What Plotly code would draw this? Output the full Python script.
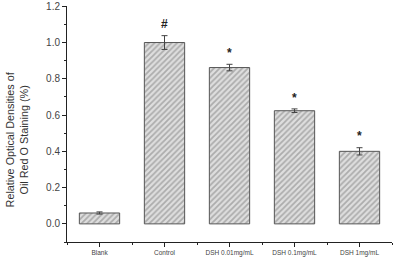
import plotly.graph_objects as go

categories = ["Blank", "Control", "DSH 0.01mg/mL", "DSH 0.1mg/mL", "DSH 1mg/mL"]
values = [0.06, 1.0, 0.862, 0.624, 0.40]
errors = [0.006, 0.038, 0.018, 0.010, 0.020]
marks = ["", "#", "*", "*", "*"]
y_ticks = [0.0, 0.2, 0.4, 0.6, 0.8, 1.0, 1.2]

xs = list(range(len(categories)))

fig = go.Figure()
fig.add_trace(go.Bar(
    x=xs, y=values, width=0.62,
    marker=dict(color="#ffffff",
                line=dict(color="#555555", width=1),
                pattern=dict(shape="/", fgcolor="#7a7a7a", bgcolor="#dedede", size=4, solidity=0.45)),
    error_y=dict(type="data", array=errors, visible=True, color="#444444", thickness=1, width=3),
    showlegend=False,
))

for x, v, e, m in zip(xs, values, errors, marks):
    if m:
        fig.add_annotation(x=x, y=v + e + 0.062, text="<b>" + m + "</b>", showarrow=False,
                           font=dict(family="Liberation Sans, Arial", size=12, color="#222222"),
                           yanchor="middle")

fig.add_annotation(xref="paper", yref="paper", x=-0.153, y=0.436, xanchor="center", yanchor="middle",
                   text="Relative Optical Densities of<br>Oil Red O Staining (%)", textangle=-90,
                   showarrow=False,
                   font=dict(family="Liberation Sans, Arial", size=10.8, color="#333333"))

fig.update_layout(
    width=393, height=263,
    margin=dict(l=67, r=1, t=1, b=21),
    paper_bgcolor="white", plot_bgcolor="white",
    bargap=0.38,
    xaxis=dict(range=[-0.5, 4.5], tickvals=xs, ticktext=categories,
               showline=True, linecolor="#222222", linewidth=1,
               ticks="outside", ticklen=4, tickcolor="#222222",
               tickfont=dict(family="Liberation Sans, Arial", size=6.5, color="#444444"),
               showgrid=False, zeroline=False,
               minor=dict(tickvals=[-0.5, 0.5, 1.5, 2.5, 3.5, 4.5], ticks="outside", ticklen=2, tickcolor="#222222")),
    yaxis=dict(range=[-0.1, 1.2015], tickvals=y_ticks, tickformat=".1f",
               ticklabeloverflow="allow",
               showline=True, linecolor="#222222", linewidth=1,
               ticks="outside", ticklen=4, tickcolor="#222222",
               tickfont=dict(family="Liberation Sans, Arial", size=10, color="#444444"),
               showgrid=False, zeroline=False,
               minor=dict(dtick=0.1, tick0=0, ticks="outside", ticklen=2, tickcolor="#222222")),
)

fig.write_html("out.html")
